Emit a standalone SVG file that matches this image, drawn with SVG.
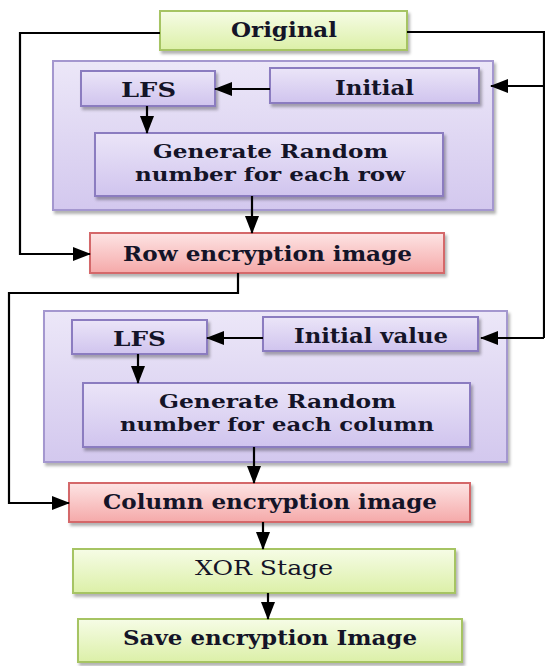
<svg xmlns="http://www.w3.org/2000/svg" width="545" height="666" viewBox="0 0 545 666">
<defs>
<linearGradient id="gGreen" x1="0" y1="0" x2="0" y2="1">
<stop offset="0" stop-color="#f6fce6"/>
<stop offset="1" stop-color="#dcf0a8"/>
</linearGradient>
<linearGradient id="gPurpleOuter" x1="0" y1="0" x2="0" y2="1">
<stop offset="0" stop-color="#ece7f8"/>
<stop offset="1" stop-color="#d3c8ee"/>
</linearGradient>
<linearGradient id="gPurpleInner" x1="0" y1="0" x2="0" y2="1">
<stop offset="0" stop-color="#ebe5f8"/>
<stop offset="1" stop-color="#d0c4ee"/>
</linearGradient>
<linearGradient id="gRed" x1="0" y1="0" x2="0" y2="1">
<stop offset="0" stop-color="#fde4e4"/>
<stop offset="1" stop-color="#f5a9a9"/>
</linearGradient>
<filter id="shadow" x="-5%" y="-10%" width="112%" height="130%">
<feDropShadow dx="2" dy="3" stdDeviation="1.5" flood-color="#000" flood-opacity="0.3"/>
</filter>
<marker id="arrow" markerUnits="userSpaceOnUse" markerWidth="18" markerHeight="14" refX="17" refY="7" orient="auto">
<path d="M0,0 L18,7 L0,14 z" fill="#000"/>
</marker>
</defs>
<style>
.green{fill:url(#gGreen);stroke:#a6c463;stroke-width:2;filter:url(#shadow)}
.outer{fill:url(#gPurpleOuter);stroke:#a497cf;stroke-width:2;filter:url(#shadow)}
.inner{fill:url(#gPurpleInner);stroke:#8b7cc0;stroke-width:2;filter:url(#shadow)}
.red{fill:url(#gRed);stroke:#d4676a;stroke-width:2;filter:url(#shadow)}
.t{font-family:"DejaVu Serif","Liberation Serif",serif;font-weight:bold;font-size:21px;fill:#141428}
.s{font-size:19px}
.n{font-weight:normal}
.c{fill:none;stroke:#000;stroke-width:2.2}
.a{marker-end:url(#arrow)}
</style>

<g id="block1">
<rect class="outer" x="53" y="61" width="440" height="149"/>
</g>
<g id="block2">
<rect class="outer" x="44" y="311" width="463" height="151"/>
</g>

<g id="original">
<rect class="green" x="160" y="11" width="247" height="39"/>
<text class="t" x="231" y="37" textLength="106" lengthAdjust="spacingAndGlyphs">Original</text>
</g>
<g id="lfs1">
<rect class="inner" x="81" y="71" width="134" height="35"/>
<text class="t" x="121" y="97" textLength="55" lengthAdjust="spacingAndGlyphs">LFS</text>
</g>
<g id="initial1">
<rect class="inner" x="270" y="68" width="209" height="35"/>
<text class="t" x="335" y="95" textLength="79" lengthAdjust="spacingAndGlyphs">Initial</text>
</g>
<g id="generate1">
<rect class="inner" x="95" y="133" width="348" height="63"/>
<text class="t s" x="153" y="158" textLength="235" lengthAdjust="spacingAndGlyphs">Generate Random</text>
<text class="t s" x="135" y="181" textLength="270" lengthAdjust="spacingAndGlyphs">number for each row</text>
</g>
<g id="row">
<rect class="red" x="90" y="233" width="354" height="40"/>
<text class="t" x="123" y="261" textLength="289" lengthAdjust="spacingAndGlyphs">Row encryption image</text>
</g>
<g id="lfs2">
<rect class="inner" x="72" y="320" width="135" height="34"/>
<text class="t" x="113" y="346" textLength="53" lengthAdjust="spacingAndGlyphs">LFS</text>
</g>
<g id="initial2">
<rect class="inner" x="263" y="317" width="215" height="34"/>
<text class="t" x="294" y="343" textLength="154" lengthAdjust="spacingAndGlyphs">Initial value</text>
</g>
<g id="generate2">
<rect class="inner" x="83" y="383" width="387" height="64"/>
<text class="t s" x="159" y="408" textLength="237" lengthAdjust="spacingAndGlyphs">Generate Random</text>
<text class="t s" x="120" y="431" textLength="314" lengthAdjust="spacingAndGlyphs">number for each column</text>
</g>
<g id="column">
<rect class="red" x="69" y="483" width="401" height="39"/>
<text class="t" x="103" y="509" textLength="334" lengthAdjust="spacingAndGlyphs">Column encryption image</text>
</g>
<g id="xor">
<rect class="green" x="73" y="549" width="382" height="44"/>
<text class="t n" x="195" y="575" textLength="138" lengthAdjust="spacingAndGlyphs">XOR Stage</text>
</g>
<g id="save">
<rect class="green" x="78" y="619" width="384" height="43"/>
<text class="t" x="123" y="645" textLength="294" lengthAdjust="spacingAndGlyphs">Save encryption Image</text>
</g>

<g id="connectors">
<path class="c a" d="M160,33 H20 V254 H90"/>
<path class="c" d="M407,32 H544 V338"/>
<path class="c a" d="M544,86 H491"/>
<path class="c a" d="M544,338 H481"/>
<path class="c a" d="M270,89 H215"/>
<path class="c a" d="M147,106 V133"/>
<path class="c a" d="M252,196 V233"/>
<path class="c a" d="M238,273 V293 H9 V503 H69"/>
<path class="c a" d="M263,338 H207"/>
<path class="c a" d="M138,354 V383"/>
<path class="c a" d="M254,447 V483"/>
<path class="c a" d="M263,522 V549"/>
<path class="c a" d="M268,593 V619"/>
</g>
</svg>
